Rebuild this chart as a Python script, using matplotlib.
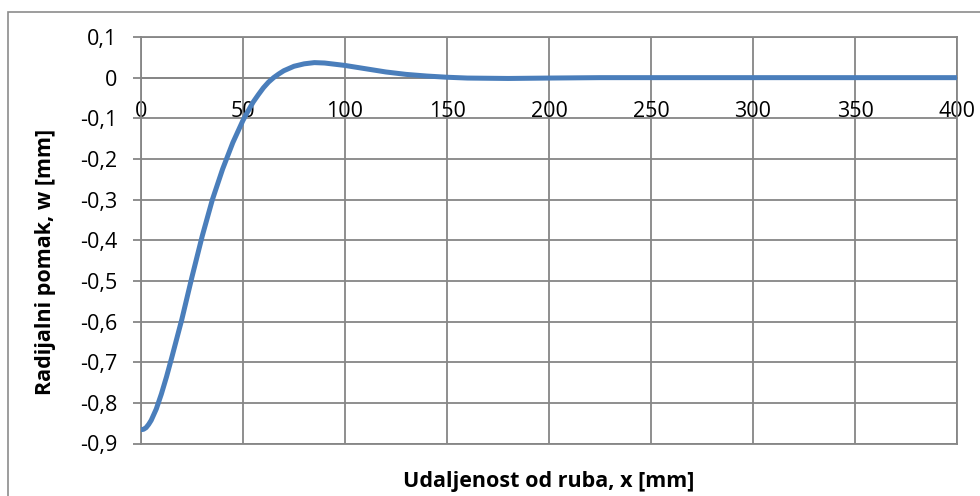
import matplotlib
matplotlib.use("Agg")
from matplotlib import pyplot as plt
from matplotlib.patches import Rectangle
import numpy as np

# udaljenost od ruba [mm] i radijalni pomak [mm]
x_mm = [0, 1.25, 2.5, 3.75, 5, 7.5, 10, 12.5, 15, 20, 25, 30, 35, 40, 45, 50,
        52.5, 55, 57.5, 60, 62.5, 65, 67.5, 70, 75, 80, 85, 90, 95, 100, 110,
        120, 130, 140, 150, 160, 180, 200, 225, 250, 300, 350, 400]
w_mm = [-0.866, -0.865, -0.861, -0.853, -0.843, -0.815, -0.778, -0.736, -0.690,
        -0.595, -0.490, -0.390, -0.300, -0.225, -0.160, -0.105, -0.082, -0.060,
        -0.042, -0.025, -0.011, 0.000, 0.009, 0.017, 0.028, 0.034, 0.037, 0.036,
        0.033, 0.030, 0.022, 0.014, 0.008, 0.004, 0.001, -0.001, -0.002, -0.001,
        0.000, 0.000, 0.000, 0.000, 0.000]

x_ticks = [0, 50, 100, 150, 200, 250, 300, 350, 400]
y_ticks = [0.1, 0, -0.1, -0.2, -0.3, -0.4, -0.5, -0.6, -0.7, -0.8, -0.9]

grid_col = "#868686"
line_col = "#4a7ebb"

plt.rcParams['font.family'] = ['Open Sans', 'DejaVu Sans']

fig = plt.figure(figsize=(9.8, 4.96), dpi=100)
ax = fig.add_axes([141/980, 1 - 443.5/496, (957 - 141)/980, (443.5 - 37)/496])

# okvir grafikona
fig.patches.append(Rectangle((8/980, -0.1), 1.2, 1 - 12/496 + 0.1,
                             transform=fig.transFigure, fill=False,
                             edgecolor="#8c8c8c", lw=1.2))

ax.plot(x_mm, w_mm, "-", color=line_col, lw=3.6, solid_capstyle="round",
        solid_joinstyle="round", zorder=3)

ax.set_xlim(0, 400)
ax.set_ylim(-0.9, 0.1)

ax.set_xticks(x_ticks)
ax.set_xticklabels([str(v) for v in x_ticks])
ax.set_yticks(y_ticks)
ax.set_yticklabels([f"{v:.1f}".replace(".", ",") if v != 0 else "0" for v in y_ticks])

ax.spines['bottom'].set_position(('data', 0))
for s in ax.spines.values():
    s.set_color(grid_col)
    s.set_linewidth(1.3)

ax.grid(True, color=grid_col, lw=1.3)
ax.axhline(-0.9, color=grid_col, lw=1.3, clip_on=False)

ax.tick_params(axis='x', length=0, pad=17, labelsize=15.5, colors='black')
ax.tick_params(axis='y', length=6, width=1.3, color=grid_col, pad=11,
               labelsize=15.5, labelcolor='black')

fig.text(45/980, 1 - 262/496, "Radijalni pomak, w [mm]", rotation=90,
         ha='center', va='center', fontsize=15.5, fontweight='bold')
fig.text(549/980, 1 - 481/496, "Udaljenost od ruba, x [mm]",
         ha='center', va='center', fontsize=15.5, fontweight='bold')

fig.savefig("out.png", dpi=100)
